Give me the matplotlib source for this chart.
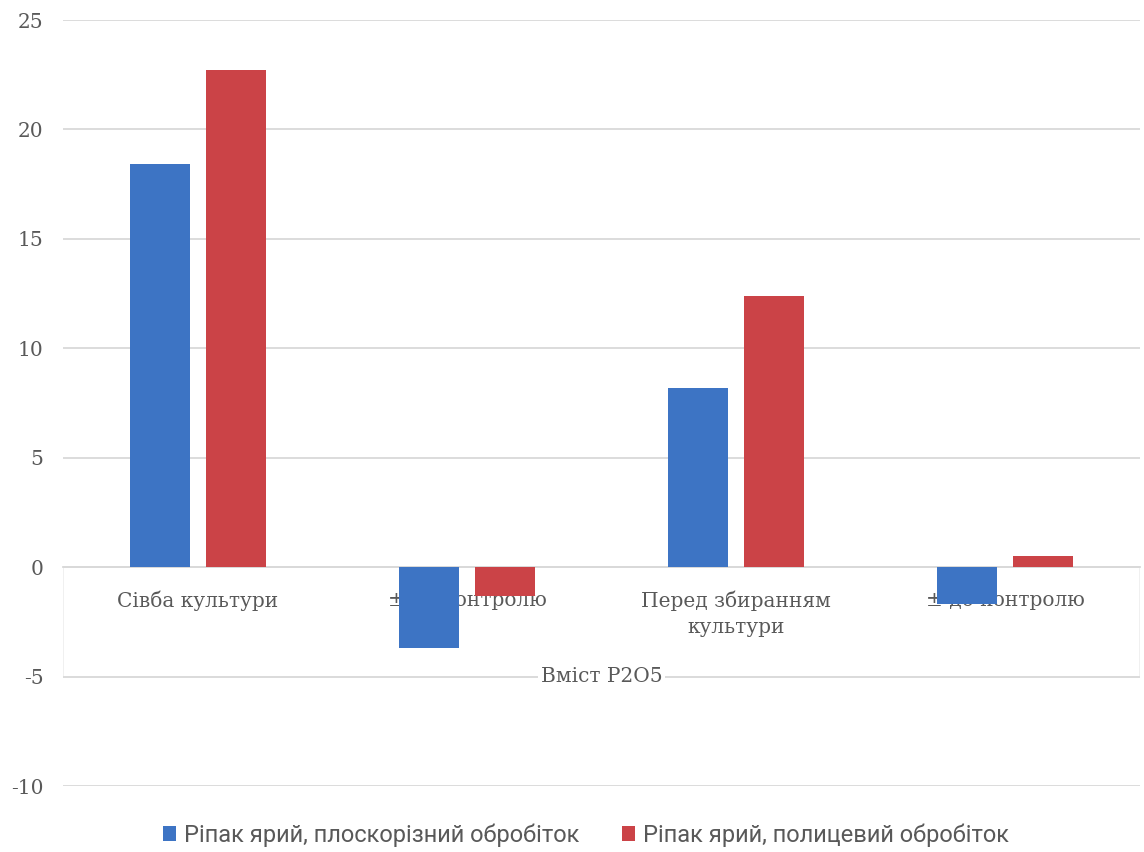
import matplotlib
matplotlib.use("Agg")
import matplotlib.pyplot as plt
import numpy as np
from matplotlib.patches import Rectangle

categories = ["Сівба культури", "± до контролю", "Перед збиранням\nкультури", "± до контролю"]
series_names = ["Ріпак ярий, плоскорізний обробіток", "Ріпак ярий, полицевий обробіток"]
flat_tillage = [18.4, -3.7, 8.2, -1.7]
plough_tillage = [22.7, -1.3, 12.4, 0.5]
y_ticks = [-10, -5, 0, 5, 10, 15, 20, 25]
x_title = "Вміст P2O5"

blue = "#3D74C4"
red = "#CB4347"
grid_c = "#D9D9D9"
text_c = "#595959"
serif = ["DejaVu Serif"]

fig = plt.figure(figsize=(11.44, 8.52), dpi=100)
ax = fig.add_axes([63 / 1144, 1 - 786 / 852, (1140 - 63) / 1144, (786 - 20) / 852])

x = np.arange(len(categories))
w = 0.223
off = 0.141
ax.bar(x - off, flat_tillage, w, color=blue, zorder=3, label=series_names[0])
ax.bar(x + off, plough_tillage, w, color=red, zorder=3, label=series_names[1])

ax.set_xlim(-0.5, len(categories) - 0.5)
ax.set_ylim(-10, 25)
ax.set_yticks(y_ticks)
ax.set_yticklabels([str(v) for v in y_ticks], fontsize=14.5, color=text_c, family=serif)
ax.yaxis.grid(True, color=grid_c, linewidth=1.3)
ax.set_axisbelow(True)
ax.tick_params(axis="y", length=0, pad=14)

for s in ["top", "right", "left"]:
    ax.spines[s].set_visible(False)
ax.spines["bottom"].set_position(("data", 0))
ax.spines["bottom"].set_color(grid_c)
ax.spines["bottom"].set_linewidth(1.3)
ax.set_xticks(x)
ax.set_xticklabels(categories, fontsize=14.5, color=text_c, family=serif, linespacing=1.45)
ax.tick_params(axis="x", length=0, pad=17)

# faint frame around the category label band
ax.add_patch(Rectangle((-0.5, -5), len(categories), 5, fill=False,
                       edgecolor="#EEEEEE", linewidth=1.2, zorder=0.4))

ax.text((len(categories) - 1) / 2, -5, x_title, ha="center", va="center",
        fontsize=14.5, color=text_c, family=serif,
        bbox=dict(facecolor="white", edgecolor="none", pad=2), zorder=2)

leg = fig.legend(loc="center", bbox_to_anchor=(0.512, 1 - 835 / 852), ncol=2, frameon=False,
                 handlelength=0.55, handleheight=0.55, handletextpad=0.35, columnspacing=1.8,
                 prop={"family": ["Roboto", "DejaVu Sans"], "size": 17})
for t in leg.get_texts():
    t.set_color(text_c)

fig.savefig("out.png", dpi=100, facecolor="white")
